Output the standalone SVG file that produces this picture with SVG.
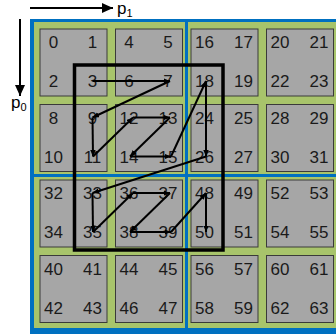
<svg xmlns="http://www.w3.org/2000/svg" width="336" height="334" viewBox="0 0 336 334">
<defs>
<marker id="big" markerUnits="userSpaceOnUse" markerWidth="12" markerHeight="10" refX="11" refY="5" orient="auto"><path d="M0,0 L11,5 L0,10 z" fill="#000"/></marker>
<marker id="sm" markerUnits="userSpaceOnUse" markerWidth="7" markerHeight="6" refX="6.5" refY="2.75" orient="auto"><path d="M0,0 L6.5,2.75 L0,5.5 z" fill="#000"/></marker>
</defs>
<style>
.cell{fill:#a6a6a6;stroke:#3a3a3a;stroke-width:1}
.n{font-family:"Liberation Sans",Arial,sans-serif;font-size:17px;fill:#1a1a1a;text-anchor:middle}
.ax{font-family:"Liberation Sans",Arial,sans-serif;fill:#000}
.seg{stroke:#000;stroke-width:2;fill:none;marker-end:url(#sm)}
</style>
<g id="axes">
<line x1="30" y1="8" x2="113" y2="8" stroke="#000" stroke-width="2" marker-end="url(#big)"/>
<text class="ax" x="117" y="14" font-size="17">p<tspan font-size="11" dy="3">1</tspan></text>
<line x1="20" y1="19" x2="20" y2="96" stroke="#000" stroke-width="2" marker-end="url(#big)"/>
<text class="ax" x="11" y="108" font-size="17">p<tspan font-size="11" dy="3">0</tspan></text>
</g>
<g id="frame">
<rect x="30" y="19" width="310" height="320" fill="#0070c0"/>
<rect x="34" y="22" width="306" height="306" fill="#a8c46b"/>
<line x1="186.5" y1="19" x2="186.5" y2="334" stroke="#0070c0" stroke-width="3"/>
<line x1="30" y1="175.5" x2="336" y2="175.5" stroke="#0070c0" stroke-width="3"/>
</g>
<g id="b0"><rect class="cell" x="40" y="29" width="67" height="67"/><text class="n" x="53.5" y="48">0</text><text class="n" x="92.5" y="48">1</text><text class="n" x="53.5" y="87">2</text><text class="n" x="92.5" y="87">3</text></g>
<g id="b1"><rect class="cell" x="115.5" y="29" width="67" height="67"/><text class="n" x="129" y="48">4</text><text class="n" x="168" y="48">5</text><text class="n" x="129" y="87">6</text><text class="n" x="168" y="87">7</text></g>
<g id="b2"><rect class="cell" x="191" y="29" width="67" height="67"/><text class="n" x="204.5" y="48">16</text><text class="n" x="243.5" y="48">17</text><text class="n" x="204.5" y="87">18</text><text class="n" x="243.5" y="87">19</text></g>
<g id="b3"><rect class="cell" x="266.5" y="29" width="67" height="67"/><text class="n" x="280" y="48">20</text><text class="n" x="319" y="48">21</text><text class="n" x="280" y="87">22</text><text class="n" x="319" y="87">23</text></g>
<g id="b4"><rect class="cell" x="40" y="104.5" width="67" height="67"/><text class="n" x="53.5" y="123.5">8</text><text class="n" x="92.5" y="123.5">9</text><text class="n" x="53.5" y="162.5">10</text><text class="n" x="92.5" y="162.5">11</text></g>
<g id="b5"><rect class="cell" x="115.5" y="104.5" width="67" height="67"/><text class="n" x="129" y="123.5">12</text><text class="n" x="168" y="123.5">13</text><text class="n" x="129" y="162.5">14</text><text class="n" x="168" y="162.5">15</text></g>
<g id="b6"><rect class="cell" x="191" y="104.5" width="67" height="67"/><text class="n" x="204.5" y="123.5">24</text><text class="n" x="243.5" y="123.5">25</text><text class="n" x="204.5" y="162.5">26</text><text class="n" x="243.5" y="162.5">27</text></g>
<g id="b7"><rect class="cell" x="266.5" y="104.5" width="67" height="67"/><text class="n" x="280" y="123.5">28</text><text class="n" x="319" y="123.5">29</text><text class="n" x="280" y="162.5">30</text><text class="n" x="319" y="162.5">31</text></g>
<g id="b8"><rect class="cell" x="40" y="180" width="67" height="67"/><text class="n" x="53.5" y="199">32</text><text class="n" x="92.5" y="199">33</text><text class="n" x="53.5" y="238">34</text><text class="n" x="92.5" y="238">35</text></g>
<g id="b9"><rect class="cell" x="115.5" y="180" width="67" height="67"/><text class="n" x="129" y="199">36</text><text class="n" x="168" y="199">37</text><text class="n" x="129" y="238">38</text><text class="n" x="168" y="238">39</text></g>
<g id="b10"><rect class="cell" x="191" y="180" width="67" height="67"/><text class="n" x="204.5" y="199">48</text><text class="n" x="243.5" y="199">49</text><text class="n" x="204.5" y="238">50</text><text class="n" x="243.5" y="238">51</text></g>
<g id="b11"><rect class="cell" x="266.5" y="180" width="67" height="67"/><text class="n" x="280" y="199">52</text><text class="n" x="319" y="199">53</text><text class="n" x="280" y="238">54</text><text class="n" x="319" y="238">55</text></g>
<g id="b12"><rect class="cell" x="40" y="255.5" width="67" height="67"/><text class="n" x="53.5" y="274.5">40</text><text class="n" x="92.5" y="274.5">41</text><text class="n" x="53.5" y="313.5">42</text><text class="n" x="92.5" y="313.5">43</text></g>
<g id="b13"><rect class="cell" x="115.5" y="255.5" width="67" height="67"/><text class="n" x="129" y="274.5">44</text><text class="n" x="168" y="274.5">45</text><text class="n" x="129" y="313.5">46</text><text class="n" x="168" y="313.5">47</text></g>
<g id="b14"><rect class="cell" x="191" y="255.5" width="67" height="67"/><text class="n" x="204.5" y="274.5">56</text><text class="n" x="243.5" y="274.5">57</text><text class="n" x="204.5" y="313.5">58</text><text class="n" x="243.5" y="313.5">59</text></g>
<g id="b15"><rect class="cell" x="266.5" y="255.5" width="67" height="67"/><text class="n" x="280" y="274.5">60</text><text class="n" x="319" y="274.5">61</text><text class="n" x="280" y="313.5">62</text><text class="n" x="319" y="313.5">63</text></g>
<g id="query">
<rect x="74.5" y="65" width="148.5" height="185" fill="none" stroke="#000" stroke-width="3.5"/>
</g>
<g id="connectors">
<line class="seg" x1="92.5" y1="81" x2="170" y2="81"/>
<line class="seg" x1="170" y1="81" x2="92.5" y2="117.5"/>
<line class="seg" x1="92.5" y1="117.5" x2="93" y2="156.5"/>
<line class="seg" x1="93" y1="156.5" x2="133" y2="117.5"/>
<line class="seg" x1="133" y1="117.5" x2="170" y2="117.5"/>
<line class="seg" x1="170" y1="117.5" x2="130" y2="156.5"/>
<line class="seg" x1="130" y1="156.5" x2="171" y2="156.5"/>
<line class="seg" x1="171" y1="156.5" x2="206" y2="81"/>
<line class="seg" x1="206" y1="81" x2="206" y2="156.5"/>
<line class="seg" x1="206" y1="156.5" x2="92.5" y2="193"/>
<line class="seg" x1="92.5" y1="193" x2="93" y2="232"/>
<line class="seg" x1="93" y1="232" x2="133" y2="193"/>
<line class="seg" x1="133" y1="193" x2="170" y2="193"/>
<line class="seg" x1="170" y1="193" x2="130" y2="232"/>
<line class="seg" x1="130" y1="232" x2="171" y2="232"/>
<line class="seg" x1="171" y1="232" x2="206" y2="193"/>
<line class="seg" x1="206" y1="193" x2="206" y2="232"/>
</g>
</svg>
